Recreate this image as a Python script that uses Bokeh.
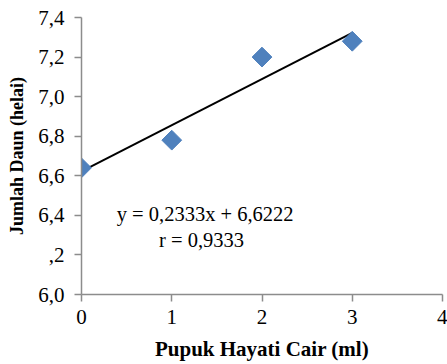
from bokeh.plotting import figure
from bokeh.models import Range1d, FixedTicker, Label
from bokeh.embed import file_html
from bokeh.resources import INLINE
import math

# Data
dosis = [0, 1, 2, 3]
jumlah_daun = [6.64, 6.78, 7.20, 7.28]
slope = 0.2333
intercept = 6.6222
x_ticks = [0, 1, 2, 3, 4]
y_ticks = [6.0, 6.2, 6.4, 6.6, 6.8, 7.0, 7.2, 7.4]
y_tick_labels = ["6,0", ",2", "6,4", "6,6", "6,8", "7,0", "7,2", "7,4"]
eq_text = "y = 0,2333x + 6,6222"
r_text = "r = 0,9333"

FONT = "Liberation Serif"
AXIS_COLOR = "#8c8c8c"

p = figure(width=447, height=364, output_backend="svg", toolbar_location=None,
           x_range=Range1d(0, 4), y_range=Range1d(6.0, 7.4),
           min_border_left=81, min_border_right=5, min_border_top=17, min_border_bottom=70)
p.outline_line_color = None
p.xgrid.visible = False
p.ygrid.visible = False

# trendline
tx = [dosis[0], dosis[-1]]
ty = [intercept + slope * v for v in tx]
p.line(tx, ty, line_color="black", line_width=2)

p.scatter(dosis, jumlah_daun, marker="square", size=14, angle=math.pi / 4,
          fill_color="#4F81BD", line_color="#4F81BD")

for ax in (p.xaxis[0], p.yaxis[0]):
    ax.axis_line_color = AXIS_COLOR
    ax.axis_line_width = 1.5
    ax.major_tick_line_color = AXIS_COLOR
    ax.major_tick_line_width = 1.5
    ax.major_tick_out = 7
    ax.major_tick_in = 0
    ax.minor_tick_line_color = None
    ax.major_label_text_font = FONT
    ax.major_label_text_font_size = "21px"
    ax.major_label_text_color = "black"
    ax.axis_label_text_font = FONT
    ax.axis_label_text_font_style = "bold"
    ax.axis_label_text_color = "black"

p.xaxis.axis_label_text_font_size = "21px"
p.yaxis.axis_label_text_font_size = "18px"
p.xaxis.ticker = FixedTicker(ticks=x_ticks)
p.yaxis.ticker = FixedTicker(ticks=y_ticks)
p.yaxis.major_label_overrides = {t: l for t, l in zip(y_ticks, y_tick_labels)}
p.xaxis.major_label_standoff = 8
p.yaxis.major_label_standoff = 10
p.xaxis.axis_label = "Pupuk Hayati Cair (ml)"
p.yaxis.axis_label = "Jumlah Daun (helai)"
p.xaxis.axis_label_standoff = 10
p.yaxis.axis_label_standoff = 8

p.add_layout(Label(x=1.37, y=6.405, text=eq_text, text_font=FONT, text_font_size="20.5px",
                   text_align="center", text_baseline="middle", text_color="black"))
p.add_layout(Label(x=1.33, y=6.275, text=r_text, text_font=FONT, text_font_size="20.5px",
                   text_align="center", text_baseline="middle", text_color="black"))

open("out.html", "w").write(file_html(p, INLINE))
